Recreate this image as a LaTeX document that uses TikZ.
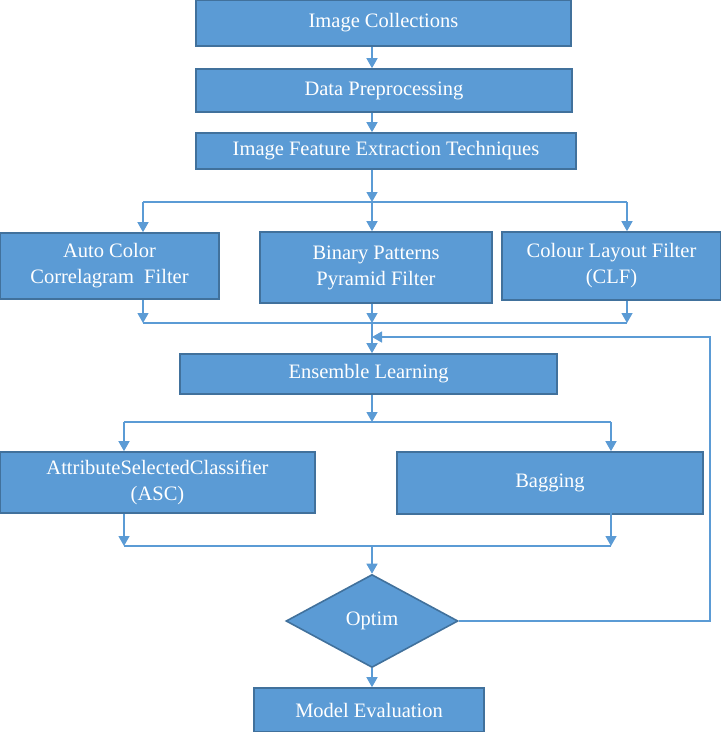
\documentclass[tikz,border=0pt]{standalone}
\usepackage{fontspec}
\setmainfont{Liberation Serif}
\usetikzlibrary{shapes.geometric,arrows.meta}
\definecolor{boxblue}{HTML}{5B9BD5}
\definecolor{edgeblue}{HTML}{41719C}

\begin{document}
\begin{tikzpicture}[x=1pt,y=-1pt,
    block/.style={draw=edgeblue,line width=1.6pt,fill=boxblue,text=white,align=center,inner sep=0pt,font=\fontsize{20.5}{26}\selectfont},
    decision/.style={block,diamond,aspect=1.85},
    flow/.style={draw=boxblue,line width=1.3pt,-{Triangle[width=11pt,length=10pt]}},
    link/.style={draw=boxblue,line width=1.3pt}]
    \useasboundingbox (0,0) rectangle (721,732);
    \node[block,minimum width=375pt,minimum height=46pt] (ic) at (383.5,23) {Image Collections};
    \node[block,minimum width=376pt,minimum height=43pt] (dp) at (384,90.5) {Data Preprocessing};
    \node[block,minimum width=380pt,minimum height=36pt] (ife) at (386,151) {Image Feature Extraction Techniques};
    \node[block,minimum width=219pt,minimum height=66pt] (acc) at (109.5,266) {Auto Color\\Correlagram\ \ Filter};
    \node[block,minimum width=232pt,minimum height=71pt] (bpp) at (376,267.5) {Binary Patterns\\Pyramid Filter};
    \node[block,minimum width=219pt,minimum height=68pt] (clf) at (611.5,266) {Colour Layout Filter\\(CLF)};
    \node[block,minimum width=377pt,minimum height=40pt] (ens) at (368.5,374) {Ensemble Learning};
    \node[block,minimum width=315pt,minimum height=61pt] (asc) at (157.5,482.5) {AttributeSelectedClassifier\\(ASC)};
    \node[block,minimum width=306pt,minimum height=62pt] (bag) at (550,483) {Bagging};
    \node[decision,minimum width=172pt,minimum height=93pt] (opt) at (372,621) {Optim};
    \node[block,minimum width=230pt,minimum height=44pt] (mev) at (369,710) {Model Evaluation};

    \coordinate (spine) at (372,0);
    \coordinate (rx) at (710,0);
    \coordinate (fa) at (372,202);
    \coordinate (fal) at (143,202);
    \coordinate (far) at (627,202);
    \coordinate (ja) at (372,323);
    \coordinate (jal) at (143,323);
    \coordinate (jar) at (627,323);
    \coordinate (ret) at (372,337);
    \coordinate (fb) at (372,422);
    \coordinate (fbl) at (124,422);
    \coordinate (fbr) at (611,422);
    \coordinate (jb) at (372,546);
    \coordinate (jbl) at (124,546);
    \coordinate (jbr) at (611,546);

    \draw[flow] (ic.south -| spine) -- (dp.north -| spine);
    \draw[flow] (dp.south -| spine) -- (ife.north -| spine);
    \draw[flow] (ife.south -| spine) -- (fa);
    \draw[link] (fal) -- (far);
    \draw[flow] (fal) -- (acc.north -| fal);
    \draw[flow] (fa) -- (bpp.north -| fa);
    \draw[flow] (far) -- (clf.north -| far);
    \draw[flow] (acc.south -| jal) -- (jal);
    \draw[flow] (bpp.south -| ja) -- (ja);
    \draw[flow] (clf.south -| jar) -- (jar);
    \draw[link] (jal) -- (jar);
    \draw[flow] (ja) -- (ens.north -| ja);
    \draw[flow] (opt.east) -- (opt.east -| rx) -- (rx |- ret) -- (ret);
    \draw[flow] (ens.south -| spine) -- (fb);
    \draw[link] (fbl) -- (fbr);
    \draw[flow] (fbl) -- (asc.north -| fbl);
    \draw[flow] (fbr) -- (bag.north -| fbr);
    \draw[flow] (asc.south -| jbl) -- (jbl);
    \draw[flow] ([yshift=6pt]bag.south -| jbr) -- (jbr);
    \draw[link] (jbl) -- (jbr);
    \draw[flow] (jb) -- (opt.north);
    \draw[flow] (opt.south) -- (mev.north -| spine);
\end{tikzpicture}
\end{document}
